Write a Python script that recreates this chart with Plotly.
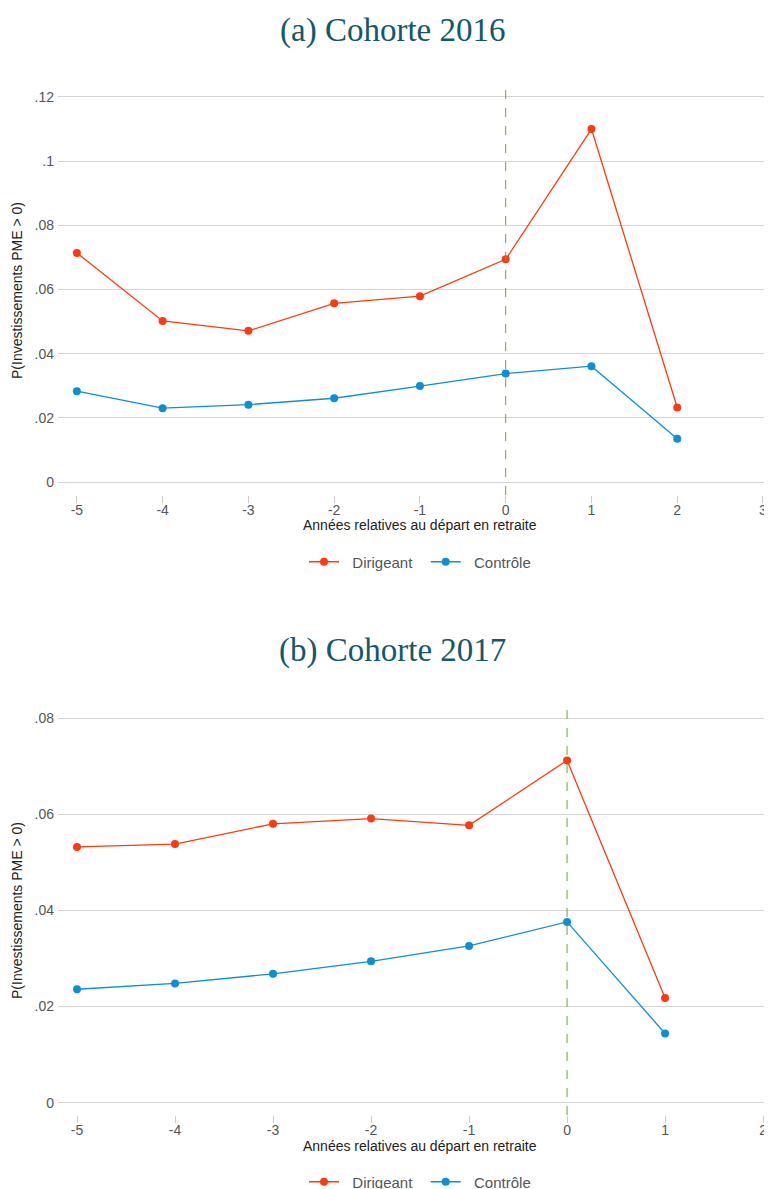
import plotly.graph_objects as go

# Données
annees_2016 = [-5, -4, -3, -2, -1, 0, 1, 2]
dirigeant_2016 = [0.0714, 0.0502, 0.0471, 0.0557, 0.0579, 0.0694, 0.1100, 0.0232]
controle_2016 = [0.0283, 0.0230, 0.0241, 0.0261, 0.0299, 0.0338, 0.0361, 0.0135]

annees_2017 = [-5, -4, -3, -2, -1, 0, 1]
dirigeant_2017 = [0.0532, 0.0538, 0.0580, 0.0591, 0.0577, 0.0712, 0.0218]
controle_2017 = [0.0236, 0.0248, 0.0268, 0.0294, 0.0326, 0.0376, 0.0144]

xticks_2016 = [-5, -4, -3, -2, -1, 0, 1, 2, 3]
xticks_2017 = [-5, -4, -3, -2, -1, 0, 1, 2]
yticks_2016 = [0, 0.02, 0.04, 0.06, 0.08, 0.10, 0.12]
ylabels_2016 = ["0", ".02", ".04", ".06", ".08", ".1", ".12"]
yticks_2017 = [0, 0.02, 0.04, 0.06, 0.08]
ylabels_2017 = ["0", ".02", ".04", ".06", ".08"]

ROUGE = "#ff3a0f"
BLEU = "#0c8fd6"
VERT = "#66aa22"

# la page a une marge de 8 px autour du graphique
OFF = 8
W, H = 772 - OFF, 1189 - OFF

def px_x(px):
    return (px - OFF) / W

def py(px):
    return 1 - (px - OFF) / H

fig = go.Figure()

for x, y, nom, couleur, ax, leg in [
    (annees_2016, dirigeant_2016, "  Dirigeant  ", ROUGE, ("x", "y"), "legend"),
    (annees_2016, controle_2016, "  Contrôle", BLEU, ("x", "y"), "legend"),
    (annees_2017, dirigeant_2017, "  Dirigeant  ", ROUGE, ("x2", "y2"), "legend2"),
    (annees_2017, controle_2017, "  Contrôle", BLEU, ("x2", "y2"), "legend2"),
]:
    fig.add_trace(go.Scatter(
        x=x, y=y, name=nom, mode="lines+markers",
        line=dict(color=couleur, width=1.3),
        marker=dict(color=couleur, size=8),
        xaxis=ax[0], yaxis=ax[1], legend=leg,
    ))

tick_font = dict(family="Liberation Sans, Arial", size=14, color="#555555")
xcommon = dict(showgrid=False, zeroline=False, showline=False, ticks="outside",
               ticklen=7, tickcolor="#cccccc", tickwidth=1, tickfont=tick_font,
               domain=[px_x(58), 1], automargin=False, ticklabelstandoff=-5,
               ticklabeloverflow="allow")
ycommon = dict(showgrid=True, gridcolor="#d4d4d4", gridwidth=1, zeroline=False,
               showline=False, ticks="", tickfont=tick_font, ticklabelstandoff=3,
               automargin=False)
leg_font = dict(family="Liberation Sans, Arial", size=15, color="#555555")

fig.update_layout(
    width=W, height=H,
    margin=dict(l=0, r=0, t=0, b=0, autoexpand=False),
    plot_bgcolor="white", paper_bgcolor="white",
    xaxis=dict(range=[-5.22, 3.105], anchor="y", tickvals=xticks_2016,
               ticktext=[str(v) for v in xticks_2016], **xcommon),
    yaxis=dict(range=[-0.00405, 0.1231], domain=[py(495), py(87)], anchor="x",
               tickvals=yticks_2016, ticktext=ylabels_2016, **ycommon),
    xaxis2=dict(range=[-5.194, 2.091], anchor="y2", tickvals=xticks_2017,
                ticktext=[str(v) for v in xticks_2017], **xcommon),
    yaxis2=dict(range=[-0.00256, 0.0821], domain=[py(1115), py(708)], anchor="x2",
                tickvals=yticks_2017, ticktext=ylabels_2017, **ycommon),
    legend=dict(orientation="h", x=px_x(420), xanchor="center", y=py(562), yanchor="middle",
                font=leg_font),
    legend2=dict(orientation="h", x=px_x(420), xanchor="center", y=py(1182), yanchor="middle",
                 font=leg_font),
    shapes=[
        dict(type="line", xref="x", yref="y domain", x0=0, x1=0, y0=0, y1=1,
             line=dict(color=VERT, width=1, dash="dash")),
        dict(type="line", xref="x2", yref="y2 domain", x0=0, x1=0, y0=0, y1=1,
             line=dict(color=VERT, width=1, dash="dash")),
    ],
)

titre_font = dict(family="Liberation Serif, serif", size=33, color="#14586a")
label_font = dict(family="Liberation Sans, Arial", size=14, color="#222222")
annots = [
    ("(a) Cohorte 2016", 392, 30, titre_font, 0),
    ("(b) Cohorte 2017", 392, 650, titre_font, 0),
    ("Années relatives au départ en retraite", 420, 525, label_font, 0),
    ("Années relatives au départ en retraite", 420, 1146, label_font, 0),
    ("P(Investissements PME > 0)", 17, 291, label_font, -90),
    ("P(Investissements PME > 0)", 17, 911, label_font, -90),
]
for texte, x, y, f, ang in annots:
    fig.add_annotation(text=texte, xref="paper", yref="paper", x=px_x(x), y=py(y),
                       xanchor="center", yanchor="middle", showarrow=False,
                       font=f, textangle=ang)

fig.write_html("out.html")
